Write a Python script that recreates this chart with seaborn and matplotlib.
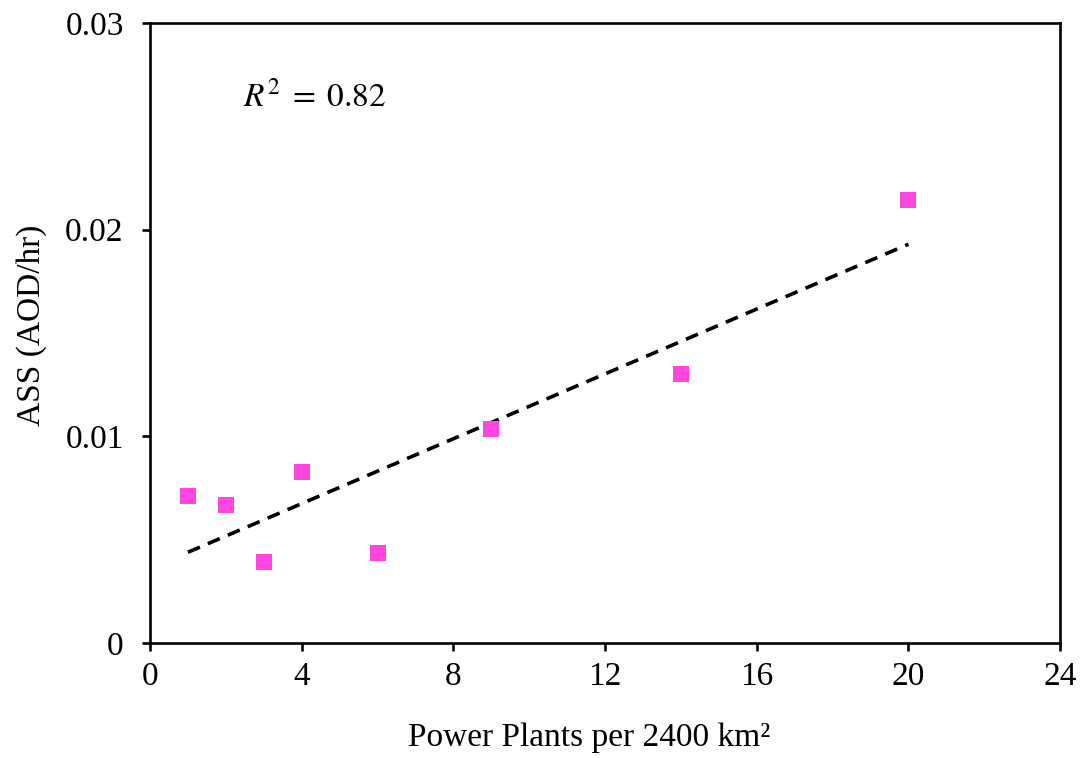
import numpy as np
import pandas as pd
import matplotlib
matplotlib.use("Agg")
import matplotlib.pyplot as plt
import seaborn as sns

# Data
power_plants = [1, 2, 3, 4, 6, 9, 14, 20]
ass_values = [0.00711, 0.00668, 0.00392, 0.00827, 0.00435, 0.01035, 0.01302, 0.02144]
x_ticks = [0, 4, 8, 12, 16, 20, 24]
y_ticks = [0, 0.01, 0.02, 0.03]
y_tick_labels = ["0", "0.01", "0.02", "0.03"]
r2_text = r"$R^2\;=\;0.82$"

sns.set_theme(style="white")
plt.rcParams["font.family"] = ["Liberation Serif", "DejaVu Serif"]
plt.rcParams["mathtext.fontset"] = "stix"

df = pd.DataFrame({"x": power_plants, "y": ass_values})
slope, intercept = np.polyfit(df["x"], df["y"], 1)
xfit = np.array([df["x"].min(), df["x"].max()])
fit_df = pd.DataFrame({"x": xfit, "y": slope * xfit + intercept})

fig = plt.figure(figsize=(10.84, 7.58), dpi=100)
ax = fig.add_axes([0.1384, 0.1517, 0.8395, 0.818])

sns.lineplot(data=fit_df, x="x", y="y", ax=ax, color="black", linewidth=2.6,
             dashes=False, zorder=2)
ax.lines[0].set_dashes((3.6, 2.4))
sns.scatterplot(data=df, x="x", y="y", ax=ax, marker="s", s=120, color="#FF46E0",
                linewidth=0, zorder=3)

ax.set_xlim(0, 24)
ax.set_ylim(0, 0.03)
ax.set_xticks(x_ticks)
ax.set_xticklabels([str(t) for t in x_ticks])
ax.set_yticks(y_ticks)
ax.set_yticklabels(y_tick_labels)

for sp in ax.spines.values():
    sp.set_visible(True)
    sp.set_color("black")
    sp.set_linewidth(1.9)

ax.tick_params(axis="both", which="major", direction="out", length=6, width=1.9,
               labelsize=24, colors="black")
ax.tick_params(axis="x", pad=7)
ax.tick_params(axis="y", pad=13)
ax.tick_params(top=False, right=False, bottom=True, left=True)

ax.set_xlabel("Power Plants per 2400 km²", fontsize=24, color="black")
ax.set_ylabel("ASS (AOD/hr)", fontsize=24, color="black")
ax.xaxis.set_label_coords(0.482, -0.128)
ax.yaxis.set_label_coords(-0.113, 0.513)

ax.text(2.45, 0.0264, r2_text, fontsize=24, ha="left", va="center", color="black")

fig.savefig("out.png", dpi=100, facecolor="white")
